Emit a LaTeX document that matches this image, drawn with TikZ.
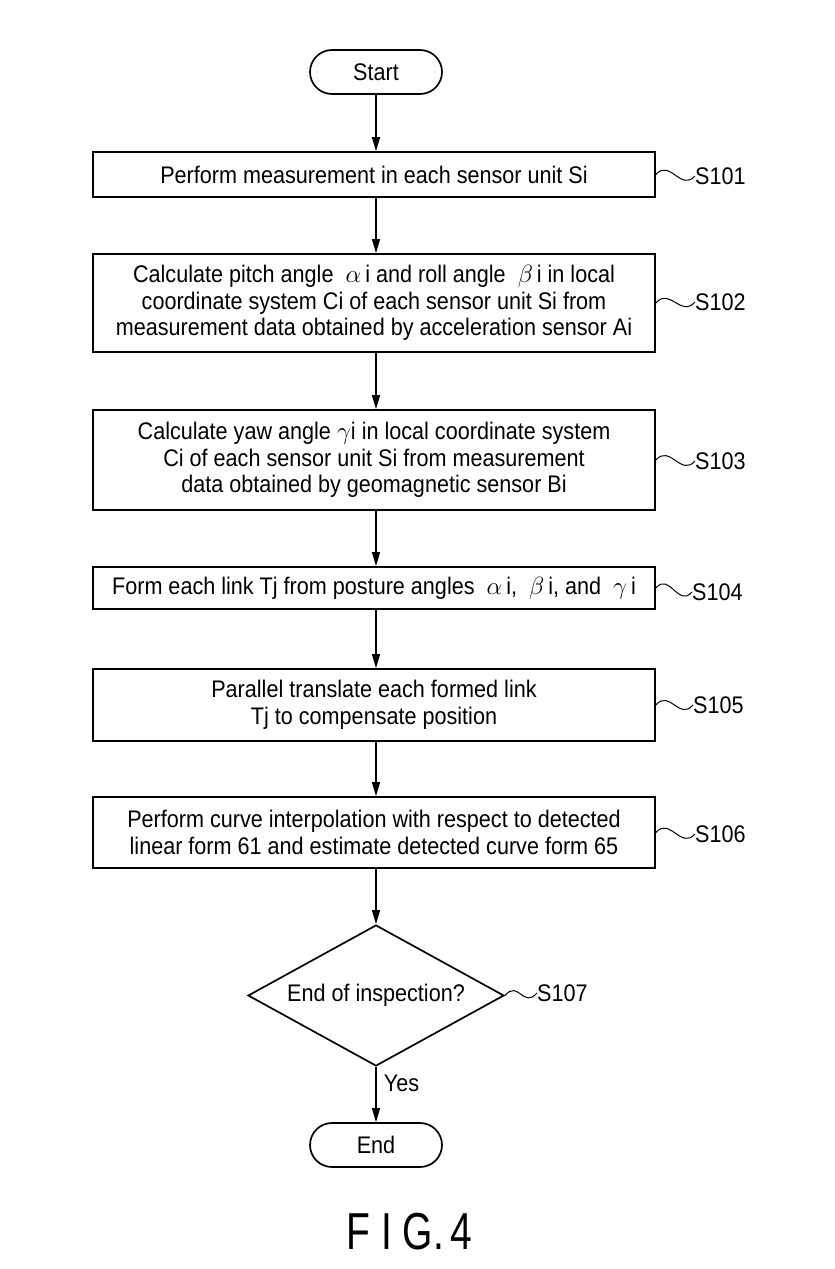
\documentclass[tikz,border=0pt]{standalone}
\usepackage{fontspec}
\setmainfont[FakeStretch=0.9]{Liberation Sans}
\newfontfamily\figfont[FakeStretch=0.75]{Liberation Sans}
\usetikzlibrary{shapes.geometric,arrows.meta}

\tikzset{
  txt/.style={font=\fontsize{24}{26.5}\selectfont},
  stepbox/.style={draw, line width=1.7pt, minimum width=562pt, align=center, inner sep=0pt, txt},
  term/.style={draw, line width=1.7pt, rounded corners=22pt, minimum width=132pt, minimum height=44pt, txt},
  decide/.style={draw, diamond, aspect=2, line width=1.7pt, minimum width=256pt, minimum height=141pt,
    inner sep=0pt, txt},
  flow/.style={line width=1.3pt, -{Triangle[length=14pt,width=8pt]}},
  steplabel/.style={anchor=west, inner sep=0pt, txt},
  squiggle/.style={line width=1pt}
}

\newcommand\squig[2]{\draw[squiggle] (#1) .. controls +(14,-16) and +(-14,16) .. (#2);}

\begin{document}
\begin{tikzpicture}[x=1pt, y=-1pt]
  \useasboundingbox (0,0) rectangle (835,1269);

  % Start und Schritte
  \node[term] (start) at (376,72) {Start};
  \node[stepbox, minimum height=45pt] (s1) at (374,174.5) {Perform measurement in each sensor unit Si};
  \node[stepbox, minimum height=98pt] (s2) at (374,303)
    {Calculate pitch angle \ $\alpha$\,i and roll angle \ $\beta$\,i in local\\
     coordinate system Ci of each sensor unit Si from\\
     measurement data obtained by acceleration sensor Ai};
  \node[stepbox, minimum height=100pt] (s3) at (374,460)
    {Calculate yaw angle $\gamma$i in local coordinate system\\
     Ci of each sensor unit Si from measurement\\
     data obtained by geomagnetic sensor Bi};
  \node[stepbox, minimum height=42pt] (s4) at (374,588)
    {Form each link Tj from posture angles \ $\alpha$\,i, \ $\beta$\,i, and \ $\gamma$\,i};
  \node[stepbox, minimum height=72pt] (s5) at (374,705)
    {Parallel translate each formed link\\ Tj to compensate position};
  \node[stepbox, minimum height=71pt] (s6) at (374,832.5)
    {Perform curve interpolation with respect to detected\\
     linear form 61 and estimate detected curve form 65};
  \node[decide] (q) at (376,995.5) {End of inspection?};
  \node[term] (end) at (376,1145) {End};

  % Schrittnummern
  \node[steplabel] (l1) at (695,176) {S101};
  \node[steplabel] (l2) at (695,302) {S102};
  \node[steplabel] (l3) at (695,461) {S103};
  \node[steplabel] (l4) at (692,592) {S104};
  \node[steplabel] (l5) at (693,705) {S105};
  \node[steplabel] (l6) at (695,834) {S106};
  \node[steplabel] (l7) at (537,993) {S107};

  \squig{s1.east}{l1.west}
  \squig{s2.east}{l2.west}
  \squig{s3.east}{l3.west}
  \squig{s4.east}{l4.west}
  \squig{s5.east}{l5.west}
  \squig{s6.east}{l6.west}
  \squig{q.east}{l7.west}

  % Pfeile
  \draw[flow] (start.south) -- (start.south |- s1.north);
  \draw[flow] (start.south |- s1.south) -- (start.south |- s2.north);
  \draw[flow] (start.south |- s2.south) -- (start.south |- s3.north);
  \draw[flow] (start.south |- s3.south) -- (start.south |- s4.north);
  \draw[flow] (start.south |- s4.south) -- (start.south |- s5.north);
  \draw[flow] (start.south |- s5.south) -- (start.south |- s6.north);
  \draw[flow] (start.south |- s6.south) -- (q.north);
  \draw[flow] (q.south) -- node[pos=0.3, right=4pt, txt] (yes) {Yes} (end.north);

  \node[font=\figfont\fontsize{52}{52}\selectfont] (fig) at (409,1232) {F\hspace{11pt}I\hspace{11pt}G.\hspace{6pt}4};
\end{tikzpicture}
\end{document}
